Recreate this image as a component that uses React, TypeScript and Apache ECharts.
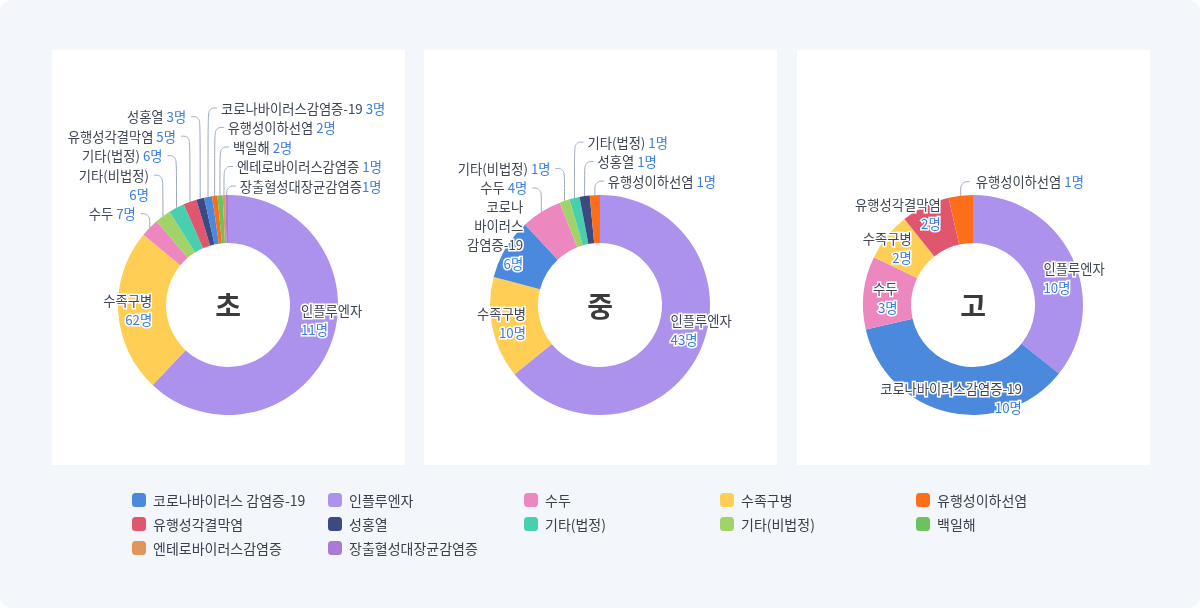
import React, { useEffect, useRef } from 'react';
import * as echarts from 'echarts';

// ---------- data ----------
const categories = [
  '코로나바이러스 감염증-19', '인플루엔자', '수두', '수족구병', '유행성이하선염',
  '유행성각결막염', '성홍열', '기타(법정)', '기타(비법정)', '백일해',
  '엔테로바이러스감염증', '장출혈성대장균감염증',
];
const categoryColors = [
  '#4a89dc', '#ac92ec', '#ec87c0', '#ffce54', '#fc6e1a',
  '#e0566f', '#3b4a80', '#48cfad', '#a0d468', '#6cc35e',
  '#e0955a', '#a97bd6',
];

const panelTitles = ['초', '중', '고'];

const choNames = ['인플루엔자', '수족구병', '수두', '기타(비법정)', '기타(법정)', '유행성각결막염', '성홍열', '코로나바이러스 감염증-19', '유행성이하선염', '백일해', '엔테로바이러스감염증', '장출혈성대장균감염증'];
const choValues = [160, 62, 7, 6, 6, 5, 3, 3, 2, 2, 1, 1];
const choLabelCounts = [11, 62, 7, 6, 6, 5, 3, 3, 2, 2, 1, 1];

const jungNames = ['인플루엔자', '수족구병', '코로나바이러스 감염증-19', '수두', '기타(비법정)', '기타(법정)', '성홍열', '유행성이하선염'];
const jungValues = [43, 10, 6, 4, 1, 1, 1, 1];

const goNames = ['인플루엔자', '코로나바이러스 감염증-19', '수두', '수족구병', '유행성각결막염', '유행성이하선염'];
const goValues = [10, 10, 3, 2, 2, 1];

// ---------- label layout plans (placement only) ----------
type Plan = { mode: 'inL' | 'inR' | 'L' | 'R'; dx?: number; dy?: number; wrap?: boolean; tight?: boolean; nameText?: string };

const choPlan: Record<string, Plan> = {
  '인플루엔자': { mode: 'inR', dy: -17 },
  '수족구병': { mode: 'inL' },
  '수두': { mode: 'L' },
  '기타(비법정)': { mode: 'L', wrap: true },
  '기타(법정)': { mode: 'L' },
  '유행성각결막염': { mode: 'L' },
  '성홍열': { mode: 'L' },
  '코로나바이러스 감염증-19': { mode: 'R' },
  '유행성이하선염': { mode: 'R' },
  '백일해': { mode: 'R' },
  '엔테로바이러스감염증': { mode: 'R' },
  '장출혈성대장균감염증': { mode: 'R', dy: 5, tight: true },
};
const jungPlan: Record<string, Plan> = {
  '인플루엔자': { mode: 'inR', dy: -12 },
  '수족구병': { mode: 'inL' },
  '코로나바이러스 감염증-19': { mode: 'inL', dx: -13, dy: -26, nameText: '코로나\n바이러스\n감염증-19' },
  '수두': { mode: 'L', dy: -10 },
  '기타(비법정)': { mode: 'L' },
  '기타(법정)': { mode: 'R' },
  '성홍열': { mode: 'R' },
  '유행성이하선염': { mode: 'R' },
};
const goPlan: Record<string, Plan> = {
  '인플루엔자': { mode: 'inR', dy: 10 },
  '코로나바이러스 감염증-19': { mode: 'inL', dx: 58, dy: 9 },
  '수두': { mode: 'inL', dy: 3 },
  '수족구병': { mode: 'inL', dx: -4, dy: -3 },
  '유행성각결막염': { mode: 'inL', dx: -5, dy: -14 },
  '유행성이하선염': { mode: 'R', dx: 2 },
};

// ---------- layout constants ----------
const W = 1200;
const H = 608;
const PANEL_X = [52, 424, 797];
const PANEL_Y = 50;
const PANEL_W = 353;
const PANEL_H = 415;
const CY = 305;
const R_IN = 62;
const R_OUT = 110;
const R_MID = (R_IN + R_OUT) / 2;
const LINE_H = 19;
const GAP = 0.5;

const FONT = "'Noto Sans CJK KR', 'Noto Sans', sans-serif";
const NAME_COLOR = '#3f4653';
const COUNT_COLOR = '#3a7de0';
const LINE_COLOR = '#9ea9ba';

const colorOf = (name: string) => categoryColors[categories.indexOf(name)];

type LabelPos = { x: number; y: number; align: 'left' | 'right'; points: number[][] };

function computeLabels(names: string[], values: number[], plan: Record<string, Plan>, cx: number, cy: number): LabelPos[] {
  const total = values.reduce((a, b) => a + b, 0);
  let acc = 0;
  const items = names.map((name, i) => {
    const a0 = (acc / total) * Math.PI * 2;
    acc += values[i];
    const a1 = (acc / total) * Math.PI * 2;
    const mid = (a0 + a1) / 2;
    const sx = Math.sin(mid);
    const sy = -Math.cos(mid);
    const p = plan[name];
    const nameLines = p.nameText ? p.nameText.split('\n').length : 1;
    const lines = nameLines + (p.mode === 'inL' || p.mode === 'inR' || p.wrap ? 1 : 0);
    return {
      i, p,
      ax: cx + R_OUT * sx, ay: cy + R_OUT * sy,
      px: cx + R_MID * sx, py: cy + R_MID * sy,
      h: lines * LINE_H,
    };
  });
  const res: LabelPos[] = [];
  items.forEach((it) => {
    const dx = it.p.dx || 0;
    const dy = it.p.dy || 0;
    if (it.p.mode === 'inR') {
      res[it.i] = { x: it.px - 7 + dx, y: it.py + dy, align: 'left', points: [[it.px, it.py], [it.px, it.py], [it.px, it.py]] };
    } else if (it.p.mode === 'inL') {
      res[it.i] = { x: it.px + 10 + dx, y: it.py + dy, align: 'right', points: [[it.px, it.py], [it.px, it.py], [it.px, it.py]] };
    }
  });
  (['L', 'R'] as const).forEach((side) => {
    const group = items
      .filter((m) => m.p.mode === side)
      .sort((a, b) => (side === 'L' ? a.ax - b.ax : b.ax - a.ax));
    let prevTop = Infinity;
    group.forEach((it) => {
      const dx = it.p.dx || 0;
      const dy = it.p.dy || 0;
      let lineY = it.ay - 14 + dy;
      const maxLineY = prevTop - GAP - it.h + LINE_H / 2;
      lineY = Math.min(lineY, maxLineY);
      const top = lineY - LINE_H / 2;
      prevTop = top;
      const dir = side === 'L' ? -1 : 1;
      res[it.i] = {
        x: side === 'L' ? it.ax - 14 + dx : it.ax + 13 + dx,
        y: top + it.h / 2,
        align: side === 'L' ? 'right' : 'left',
        points: [[it.ax, it.ay], [it.ax, lineY], [it.ax + dir * 9, lineY]],
      };
    });
  });
  return res;
}

const tokenBase = {
  fontSize: 13.3,
  fontFamily: FONT,
  lineHeight: LINE_H,
  textBorderColor: '#ffffff',
  textBorderWidth: 3,
};
const labelRich = {
  nl: { ...tokenBase, color: NAME_COLOR, align: 'left' },
  nr: { ...tokenBase, color: NAME_COLOR, align: 'right' },
  vl: { ...tokenBase, color: COUNT_COLOR, align: 'left' },
  vr: { ...tokenBase, color: COUNT_COLOR, align: 'right' },
};

function makeSeries(names: string[], values: number[], counts: number[], plan: Record<string, Plan>, panelIndex: number) {
  const cx = PANEL_X[panelIndex] + PANEL_W / 2 - 0.5;
  const layout = computeLabels(names, values, plan, cx, CY);
  return {
    type: 'pie',
    name: panelTitles[panelIndex],
    center: [cx, CY],
    radius: [R_IN, R_OUT],
    startAngle: 90,
    clockwise: true,
    avoidLabelOverlap: false,
    emphasis: { scale: false },
    data: names.map((n, i) => ({ name: n, value: values[i], itemStyle: { color: colorOf(n) } })),
    label: {
      show: true,
      position: 'outside',
      rich: labelRich,
      formatter: (params: any) => {
        const p = plan[params.name];
        const count = counts[params.dataIndex];
        const right = p.mode === 'L' || p.mode === 'inL';
        const n = right ? 'nr' : 'nl';
        const v = right ? 'vr' : 'vl';
        const nameText = p.nameText || String(params.name).replace(/\s/g, '');
        const nameLines = nameText.split('\n').map((s) => `{${n}|${s}}`).join('\n');
        const newline = p.mode === 'inL' || p.mode === 'inR' || p.wrap;
        if (newline) return `${nameLines}\n{${v}|${count}명}`;
        if (p.tight) return `${nameLines}{${v}|${count}명}`;
        return `${nameLines}{${v}| ${count}명}`;
      },
    },
    labelLine: {
      show: true,
      length: 10,
      length2: 10,
      smooth: 0.45,
      lineStyle: { color: LINE_COLOR, width: 1 },
    },
    labelLayout: (params: any) => {
      const L = layout[params.dataIndex];
      return {
        x: L.x,
        y: L.y,
        align: L.align,
        verticalAlign: 'middle',
        labelLinePoints: L.points,
      };
    },
  };
}

export default function App() {
  const ref = useRef<HTMLDivElement>(null);

  useEffect(() => {
    if (!ref.current) return;
    const chart = echarts.init(ref.current, undefined, { renderer: 'svg' });

    const graphics: any[] = [
      {
        type: 'rect', silent: true, z: -10,
        shape: { x: 0, y: 0, width: W, height: H, r: 12 },
        style: { fill: '#f3f6fb' },
      },
      ...PANEL_X.map((px) => ({
        type: 'rect', silent: true, z: -9,
        shape: { x: px, y: PANEL_Y, width: PANEL_W, height: PANEL_H },
        style: { fill: '#ffffff' },
      })),
      ...PANEL_X.map((px, i) => ({
        type: 'text', silent: true, z: 100,
        x: px + PANEL_W / 2 - 0.5,
        y: CY,
        style: {
          text: panelTitles[i],
          fontSize: 28,
          fontWeight: 'bold',
          fontFamily: FONT,
          fill: '#3b3b3b',
          align: 'center',
          verticalAlign: 'middle',
        },
      })),
    ];

    chart.setOption({
      animation: false,
      graphic: graphics,
      legend: {
        data: categories,
        left: 132,
        top: 493,
        padding: 0,
        width: 985,
        itemWidth: 14,
        itemHeight: 14,
        itemGap: 10,
        icon: 'roundRect',
        formatter: (name: string) => `{a|${name}}`,
        textStyle: {
          rich: {
            a: {
              width: 165,
              padding: [0, 0, 0, 2],
              fontSize: 14,
              fontFamily: FONT,
              color: '#3a414d',
              lineHeight: 15,
            },
          },
        },
      },
      series: [
        makeSeries(choNames, choValues, choLabelCounts, choPlan, 0),
        makeSeries(jungNames, jungValues, jungValues, jungPlan, 1),
        makeSeries(goNames, goValues, goValues, goPlan, 2),
      ],
    });

    return () => {
      chart.dispose();
    };
  }, []);

  return (
    <div
      ref={ref}
      style={{ position: 'fixed', left: 0, top: 0, width: W, height: H }}
    />
  );
}
